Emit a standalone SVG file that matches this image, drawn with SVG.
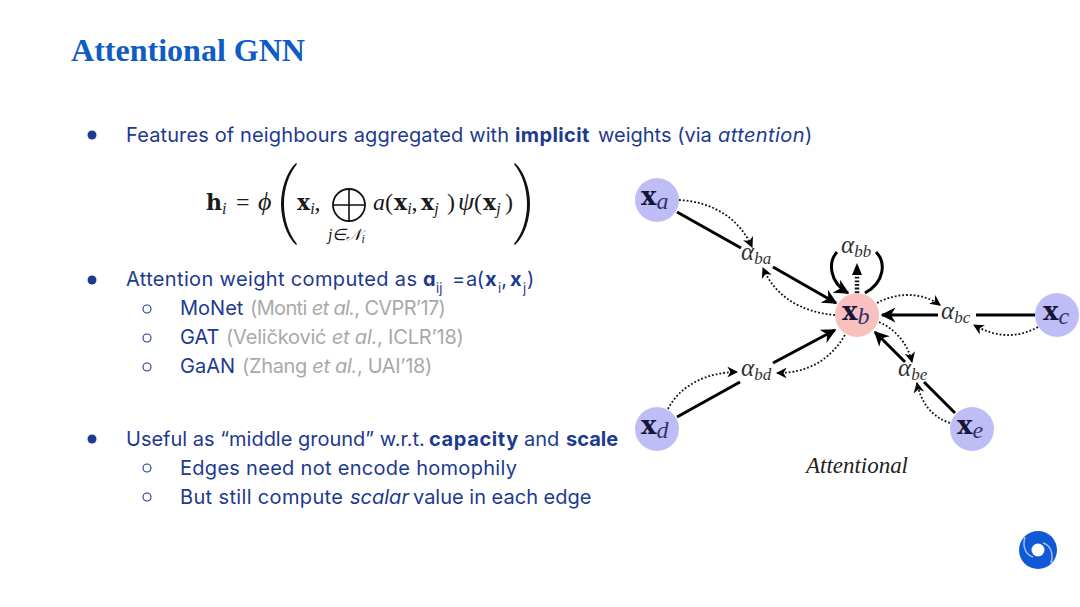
<svg xmlns="http://www.w3.org/2000/svg" width="1080" height="607" viewBox="0 0 1080 607">
<style>
.b{font-family:Inter,"Open Sans",sans-serif;font-size:20px;fill:#1c3a8f}
.g{fill:#a9a9a9}
.sub{font-size:13px}
.m{font-family:"Liberation Serif",serif;fill:#1a1a1a}
.bx{font-family:"DejaVu Serif",serif;font-weight:700}
.nb{font-family:"DejaVu Serif",serif;font-size:26px;font-weight:700;fill:#15153a}
.ns{font-size:24px;font-style:italic;fill:#33336a}
.a{font-size:25px;font-style:italic;fill:#333}
.as{font-size:17px;font-style:italic;fill:#333}
.solid{fill:none;stroke:#000;stroke-width:3}
.dot{fill:none;stroke:#111;stroke-width:1.8;stroke-dasharray:1.8 2}
.dot3{fill:none;stroke:#111;stroke-width:4.5;stroke-dasharray:1.8 1.8}
.bl{fill:#1c3a8f}
.bo{fill:none;stroke:#1c3a8f;stroke-width:1.1}
</style>
<defs>
<marker id="ah" viewBox="0 0 10 10" refX="9" refY="5" markerWidth="5" markerHeight="5" orient="auto" markerUnits="strokeWidth"><path d="M0 0L10 5L0 10L3 5Z" fill="#000"/></marker>
<marker id="ad" viewBox="0 0 10 10" refX="9" refY="5" markerWidth="6" markerHeight="6" orient="auto" markerUnits="strokeWidth"><path d="M0 0L10 5L0 10L3 5Z" fill="#000"/></marker>
</defs>
<rect width="1080" height="607" fill="#fff"/>
<text x="71" y="61" font-family="'Liberation Serif',serif" font-weight="700" font-size="32" fill="#0f5cc4" textLength="234" lengthAdjust="spacingAndGlyphs">Attentional GNN</text>

<circle class="bl" cx="92" cy="135" r="4.5"/>
<text class="b" x="126" y="142"><tspan letter-spacing="0.13">Features of neighbours aggregated with </tspan><tspan x="515" font-weight="700" letter-spacing="0.4">implicit</tspan> <tspan x="598">weights (via </tspan><tspan x="718" font-style="italic" letter-spacing="0.4">attention</tspan>)</text>

<g id="formula" class="m" font-size="24">
<text x="206" y="210"><tspan class="bx" font-size="22">h</tspan><tspan font-size="16" font-style="italic" dy="4">i</tspan><tspan x="236" dy="-4">=</tspan><tspan x="258" font-style="italic" font-size="26">ϕ</tspan></text>
<path d="M296 163C286 172 281 190 281 204C281 218 286 236 296 245L297 244C289 234 284 220 284 204C284 188 289 174 297 164Z" fill="#111"/>
<text x="297" y="210"><tspan class="bx" font-size="22">x</tspan><tspan font-size="16" font-style="italic" dy="4">i</tspan><tspan dy="-4">,</tspan></text>
<circle cx="349" cy="205" r="16" fill="none" stroke="#111" stroke-width="1.8"/>
<path d="M333 205H365M349 189V221" stroke="#111" stroke-width="1.6"/>
<text y="210"><tspan x="373" font-style="italic">a</tspan>(<tspan x="394" class="bx" font-size="22">x</tspan><tspan font-size="16" font-style="italic" dy="4">i</tspan><tspan dy="-4">,</tspan><tspan x="421" class="bx" font-size="22">x</tspan><tspan font-size="16" font-style="italic" dy="4">j</tspan><tspan x="447" dy="-4">)</tspan><tspan x="458" font-style="italic" font-size="26">ψ</tspan><tspan x="474">(</tspan><tspan x="483" class="bx" font-size="22">x</tspan><tspan font-size="16" font-style="italic" dy="4">j</tspan><tspan x="505" dy="-4">)</tspan></text>
<text x="328" y="240" font-size="16" font-style="italic">j∈𝒩<tspan font-size="12" dy="3">i</tspan></text>
<path d="M515 163C525 172 530 190 530 204C530 218 525 236 515 245L514 244C522 234 527 220 527 204C527 188 522 174 514 164Z" fill="#111"/>
</g>

<circle class="bl" cx="92" cy="280" r="4.5"/>
<text class="b" x="126" y="286"><tspan letter-spacing="0.35">Attention weight computed as </tspan><tspan x="423" font-weight="700">ɑ</tspan><tspan x="436" class="sub" dy="7">ij</tspan><tspan x="452" dy="-7">=</tspan> <tspan x="466" letter-spacing="-0.5">a(</tspan><tspan x="485" font-weight="700">x</tspan><tspan x="498" class="sub" dy="7">i</tspan><tspan dy="-7">,</tspan> <tspan x="510" font-weight="700">x</tspan><tspan x="523" class="sub" dy="7">j</tspan><tspan x="527" dy="-7">)</tspan></text>

<circle class="bo" cx="147" cy="309" r="4"/>
<text class="b" x="180" y="315">MoNet <tspan x="250" class="g" letter-spacing="-0.65">(Monti <tspan font-style="italic">et al.</tspan>, CVPR’17)</tspan></text>
<circle class="bo" cx="147" cy="338" r="4"/>
<text class="b" x="180" y="344">GAT <tspan x="226" class="g" letter-spacing="-0.2">(Veličković <tspan font-style="italic">et al.</tspan>, ICLR’18)</tspan></text>
<circle class="bo" cx="147" cy="367" r="4"/>
<text class="b" x="180" y="373">GaAN <tspan x="242" class="g" letter-spacing="-0.33">(Zhang <tspan font-style="italic">et al.</tspan>, UAI’18)</tspan></text>

<circle class="bl" cx="92" cy="439" r="4.5"/>
<text class="b" x="126" y="446">Useful as “middle ground” w.r.t. <tspan x="429" font-weight="700" letter-spacing="0.6">capacity</tspan> <tspan x="524">and </tspan><tspan x="566" font-weight="700">scale</tspan></text>
<circle class="bo" cx="147" cy="468" r="4"/>
<text class="b" x="180" y="475" letter-spacing="0.29">Edges need not encode homophily</text>
<circle class="bo" cx="147" cy="497" r="4"/>
<text class="b" x="180" y="504"><tspan letter-spacing="0.35">But still compute </tspan><tspan x="350" font-style="italic">scalar</tspan> <tspan x="413">value in each edge</tspan></text>

<g id="connectors">
<path class="solid" d="M677 212L741 248"/>
<path class="solid" d="M773 267L836 303" marker-end="url(#ah)"/>
<path class="solid" d="M677 417L740 382"/>
<path class="solid" d="M773 363L835 330" marker-end="url(#ah)"/>
<path class="solid" d="M1035 315H976"/>
<path class="solid" d="M938 315H882" marker-end="url(#ah)"/>
<path class="solid" d="M955 413L924 382"/>
<path class="solid" d="M905 362L875 332" marker-end="url(#ah)"/>
<path class="solid" d="M837 252C828 262 829 282 848 293" marker-end="url(#ah)"/>
<path class="solid" d="M876 252C886 262 885 282 865 293"/>
<path class="dot" d="M679 200C715 202 740 220 752 247" marker-end="url(#ad)"/>
<path class="dot" d="M835 315C800 312 775 296 763 268" marker-end="url(#ad)"/>
<path class="dot3" d="M857 293V272"/>
<path d="M852 275L857 263L862 275Z" fill="#000"/>
<path class="dot" d="M877 303C897 292 922 292 940 305" marker-end="url(#ad)"/>
<path class="dot" d="M1038 327C1016 339 995 337 974 325" marker-end="url(#ad)"/>
<path class="dot" d="M668 409C680 385 708 372 737 372" marker-end="url(#ad)"/>
<path class="dot" d="M845 335C830 360 808 373 777 373" marker-end="url(#ad)"/>
<path class="dot" d="M879 322C897 330 908 345 912 362" marker-end="url(#ad)"/>
<path class="dot" d="M950 423C932 417 921 403 917 383" marker-end="url(#ad)"/>
</g>

<g id="node-a"><circle cx="657" cy="200" r="22" fill="#bfbdf5"/><text class="m" x="641" y="205"><tspan class="nb">x</tspan><tspan class="ns" dy="4">a</tspan></text></g>
<g id="node-b"><circle cx="857" cy="315" r="22" fill="#f9c0c0"/><text class="m" x="842" y="320"><tspan class="nb">x</tspan><tspan class="ns" dy="4">b</tspan></text></g>
<g id="node-c"><circle cx="1057" cy="315" r="22" fill="#bfbdf5"/><text class="m" x="1043" y="320"><tspan class="nb">x</tspan><tspan class="ns" dy="4">c</tspan></text></g>
<g id="node-d"><circle cx="657" cy="429" r="22" fill="#bfbdf5"/><text class="m" x="641" y="434"><tspan class="nb">x</tspan><tspan class="ns" dy="4">d</tspan></text></g>
<g id="node-e"><circle cx="972" cy="429" r="22" fill="#bfbdf5"/><text class="m" x="957" y="434"><tspan class="nb">x</tspan><tspan class="ns" dy="4">e</tspan></text></g>

<g id="labels" class="m">
<text x="741" y="260"><tspan class="a">α</tspan><tspan class="as" dy="4">ba</tspan></text>
<text x="841" y="253"><tspan class="a">α</tspan><tspan class="as" dy="4">bb</tspan></text>
<text x="941" y="319"><tspan class="a">α</tspan><tspan class="as" dy="4">bc</tspan></text>
<text x="741" y="376"><tspan class="a">α</tspan><tspan class="as" dy="4">bd</tspan></text>
<text x="898" y="376"><tspan class="a">α</tspan><tspan class="as" dy="4">be</tspan></text>
<text x="806" y="473" font-family="'Liberation Serif',serif" font-style="italic" font-size="23" fill="#222" textLength="102">Attentional</text>
</g>

<g id="logo">
<circle cx="1038" cy="550" r="19" fill="#1059d6"/>
<circle cx="1038" cy="550" r="6.5" fill="#fff"/>
<path d="M1025 537C1022 547 1026 555 1033 557M1051 563C1054 553 1050 545 1043 543" fill="none" stroke="#9cc0f5" stroke-width="1.5"/>
</g>
</svg>
